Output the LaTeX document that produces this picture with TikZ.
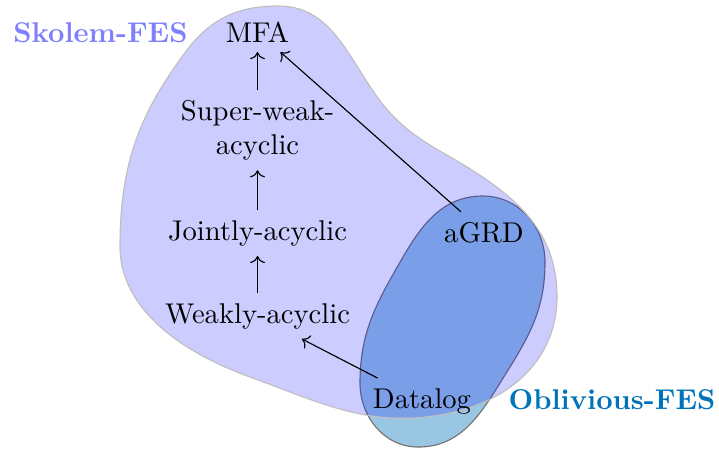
\documentclass[tikz,border=0pt]{standalone}
\usetikzlibrary{arrows.meta}
\definecolor{oblcol}{RGB}{0,115,185}
\definecolor{skocol}{RGB}{128,128,255}
\begin{document}
\begin{tikzpicture}[x=0.35pt,y=0.35pt,
  lbl/.style={inner sep=0.3333em},
  setlabel/.style={font=\bfseries, inner sep=0pt, anchor=base},
  conn/.style={->, line width=0.4pt}]
\useasboundingbox (0,0) rectangle (719,-448);
% Oblivious-FES shape
\def\oblpath{(483,-196) to[out=0,in=90] (545,-262) to[out=-90,in=58] (505,-375)
  to[out=238,in=0] (418,-447) to[out=180,in=-90] (360,-383)
  to[out=90,in=240] (403,-257) to[out=60,in=180] cycle}
\fill[oblcol, fill opacity=0.4] \oblpath;
\draw[black!55, line width=0.4pt] \oblpath;
% Skolem-FES blob
\def\skopath{(278,-6) to[out=0,in=126] (378,-98) to[out=-54,in=145] (487,-180)
  to[out=-35,in=90] (557,-297) to[out=-90,in=12] (450,-413)
  to[out=192,in=-20] (250,-377)
  to[out=160,in=-90,out looseness=1.3,in looseness=0.7] (120,-247)
  to[out=90,in=233] (187,-50) to[out=53,in=180] cycle}
\fill[blue, fill opacity=0.2] \skopath;
\draw[black!25, line width=0.4pt] \skopath;
% labels of sets
\node[setlabel, text=skocol] (sko) at (100.5,-42) {Skolem-FES};
\node[setlabel, text=oblcol] (obl) at (612,-409) {Oblivious-FES};
% classes
\node[lbl, anchor=base] (mfa) at (257.5,-42) {MFA};
\node[lbl, align=center] (swa) at (257.5,-130) {Super-weak-\\acyclic};
\node[lbl, anchor=base] (ja) at (257.5,-240) {Jointly-acyclic};
\node[lbl, anchor=base] (wa) at (257.5,-323) {Weakly-acyclic};
\node[lbl, anchor=base] (agrd) at (484,-242) {aGRD};
\node[lbl, anchor=base] (dl) at (422,-408) {Datalog};
% connectors
\draw[conn] (swa) -- (mfa);
\draw[conn] (ja) -- (swa);
\draw[conn] (wa) -- (ja);
\draw[conn] (agrd) -- (mfa);
\draw[conn] (dl) -- (wa);
\end{tikzpicture}
\end{document}
